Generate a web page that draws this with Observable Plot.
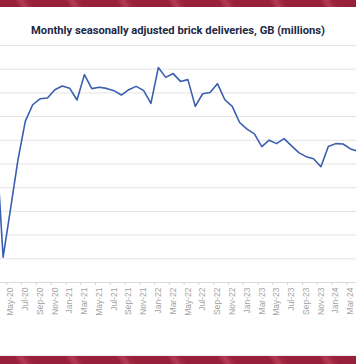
<!DOCTYPE html>
<html><head><meta charset="utf-8">
<script src="https://cdn.jsdelivr.net/npm/d3@7"></script>
<script src="https://cdn.jsdelivr.net/npm/@observablehq/plot@0.6"></script>
<style>
html,body{margin:0;padding:0;background:#fff;width:356px;height:364px;overflow:hidden;position:relative}
.band{position:absolute;left:0;width:356px;background:repeating-linear-gradient(60deg,#97213a 0px,#97213a 16px,#ab304b 19px,#b23a53 22px,#a02741 26px,#97213a 30px,#97213a 44px)}
#top{top:0;height:7px}
#bottom{top:356px;height:8px}
#bline{position:absolute;top:355px;left:0;width:356px;height:1px;background:#ececec}
#title{position:absolute;top:23px;left:0;width:356px;text-align:center;font-family:Roboto,sans-serif;font-weight:700;font-size:11.2px;color:#1c2846;line-height:16px;white-space:nowrap}
#chart{position:absolute;top:40px;left:0}
</style></head>
<body>
<div class="band" id="top"></div>
<div id="title">Monthly seasonally adjusted brick deliveries, GB (millions)</div>
<div id="chart"></div>
<div id="bline"></div>
<div class="band" id="bottom"></div>
<script>
// Months (first and last are partly outside the visible frame)
const months = ["Mar-20","Apr-20","May-20","Jun-20","Jul-20","Aug-20","Sep-20","Oct-20","Nov-20","Dec-20",
  "Jan-21","Feb-21","Mar-21","Apr-21","May-21","Jun-21","Jul-21","Aug-21","Sep-21","Oct-21","Nov-21","Dec-21",
  "Jan-22","Feb-22","Mar-22","Apr-22","May-22","Jun-22","Jul-22","Aug-22","Sep-22","Oct-22","Nov-22","Dec-22",
  "Jan-23","Feb-23","Mar-23","Apr-23","May-23","Jun-23","Jul-23","Aug-23","Sep-23","Oct-23","Nov-23","Dec-23",
  "Jan-24","Feb-24","Mar-24","Apr-24"];
// Deliveries, millions of bricks
const deliveries = [124.5,21.4,62,103,136,150,155,155.7,162.7,165.8,
  164,154,175.4,163.6,164.7,163.8,161.9,158.2,162.7,165.5,162.1,151.1,
  181.4,173.1,176.3,169.7,171.2,148.6,159.3,160.4,167.8,154.2,148.6,135,
  129.4,125.4,114.7,120.1,117.2,121.4,115.5,109.6,106.2,104.5,97.7,114.7,
  117.2,116.9,112.7,110.8];
const gridValues = [20,40,60,80,100,120,140,160,180,200];

const data = months.map((m, k) => ({i: k, month: m, v: deliveries[k]}));
const labelIdx = months.map((m, k) => k).filter(k => k >= 2 && k % 2 === 0 && k <= 48);
const tickIdx = labelIdx.map(k => k - 0.5);

const chart = Plot.plot({
  width: 356,
  height: 316,
  marginLeft: 0,
  marginRight: 0,
  marginTop: 5,
  marginBottom: 74,
  x: {type: "linear", domain: [0.647, 48.814]},
  y: {domain: [0, 200]},
  style: {fontFamily: "'Liberation Sans', Arial, sans-serif", background: "transparent"},
  marks: [
    Plot.gridY(gridValues, {stroke: "#e4e4e4", strokeOpacity: 1}),
    Plot.ruleY([0], {stroke: "#dadada"}),
    Plot.axisX(tickIdx, {tickSize: 3, tickFormat: () => "", stroke: "#d4d4d4", label: null}),
    Plot.axisX(labelIdx, {tickSize: 0, tickPadding: 5, tickRotate: -90, tickFormat: k => months[k],
      fill: "#a3a3a3", fontSize: 8.5, label: null}),
    Plot.axisY({ticks: [], label: null, tickSize: 0}),
    Plot.line(data, {x: "i", y: "v", stroke: "#3a5fae", strokeWidth: 1.6, clip: true})
  ]
});
document.getElementById("chart").appendChild(chart);
</script>
</body></html>
